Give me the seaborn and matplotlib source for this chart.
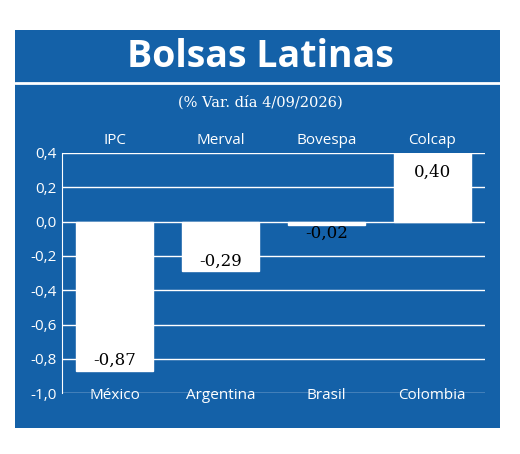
import matplotlib
matplotlib.use("Agg")
import matplotlib.pyplot as plt
import seaborn as sns
import pandas as pd
from matplotlib.patches import Rectangle

indices = ["IPC", "Merval", "Bovespa", "Colcap"]
paises = ["México", "Argentina", "Brasil", "Colombia"]
variacion = [-0.87, -0.29, -0.02, 0.40]
y_ticks = [0.4, 0.2, 0.0, -0.2, -0.4, -0.6, -0.8, -1.0]

azul = "#1461a8"
sns.set_style("white")
plt.rcParams["font.family"] = ["Open Sans", "DejaVu Sans"]

fig = plt.figure(figsize=(5.2, 4.54), dpi=100)
fig.patch.set_facecolor("white")
fig.patches.append(Rectangle((0.029, 0.057), 0.933, 0.877, transform=fig.transFigure,
                             facecolor=azul, edgecolor="none", zorder=-5))
fig.lines.append(plt.Line2D([0.029, 0.962], [0.818, 0.818], transform=fig.transFigure,
                            color="white", lw=2))
fig.text(0.5, 0.875, "Bolsas Latinas", ha="center", va="center", color="white",
         fontsize=27, fontweight="bold")
fig.text(0.5, 0.775, "(% Var. día 4/09/2026)", ha="center", va="center", color="white",
         fontsize=10.5, family="DejaVu Serif")

ax = fig.add_axes([0.119, 0.134, 0.814, 0.529])
ax.set_zorder(5)
ax.set_facecolor(azul)
df = pd.DataFrame({"pais": paises, "var": variacion})
sns.barplot(data=df, x="pais", y="var", color="white", saturation=1, width=0.73,
            ax=ax, zorder=3)
ax.set_xlim(-0.5, 3.5)
ax.set_ylim(-1.0, 0.4)
ax.set_yticks(y_ticks)
ax.set_yticklabels([f"{t:.1f}".replace(".", ",") for t in y_ticks], color="white", fontsize=11)
ax.yaxis.grid(True, color="white", lw=1)
ax.set_axisbelow(True)
ax.tick_params(axis="y", length=0, pad=4)
ax.set_xticks(range(4))
ax.set_xticklabels(paises, color="white", fontsize=11)
ax.tick_params(axis="x", length=0, pad=-4)
ax.set_xlabel("")
ax.set_ylabel("")
for s in ["top", "right", "bottom"]:
    ax.spines[s].set_visible(False)
ax.spines["left"].set_color("white")

for i, (nom, v) in enumerate(zip(indices, variacion)):
    ax.text(i, 0.47, nom, ha="center", va="center", color="white", fontsize=11)
    if v >= 0:
        ty = v - 0.11
    elif v > -0.1:
        ty = v - 0.05
    else:
        ty = v + 0.06
    ax.text(i, ty, f"{v:.2f}".replace(".", ","), ha="center", va="center",
            color="black", fontsize=12, family="DejaVu Serif", zorder=5)

fig.savefig("out.png", dpi=100)
